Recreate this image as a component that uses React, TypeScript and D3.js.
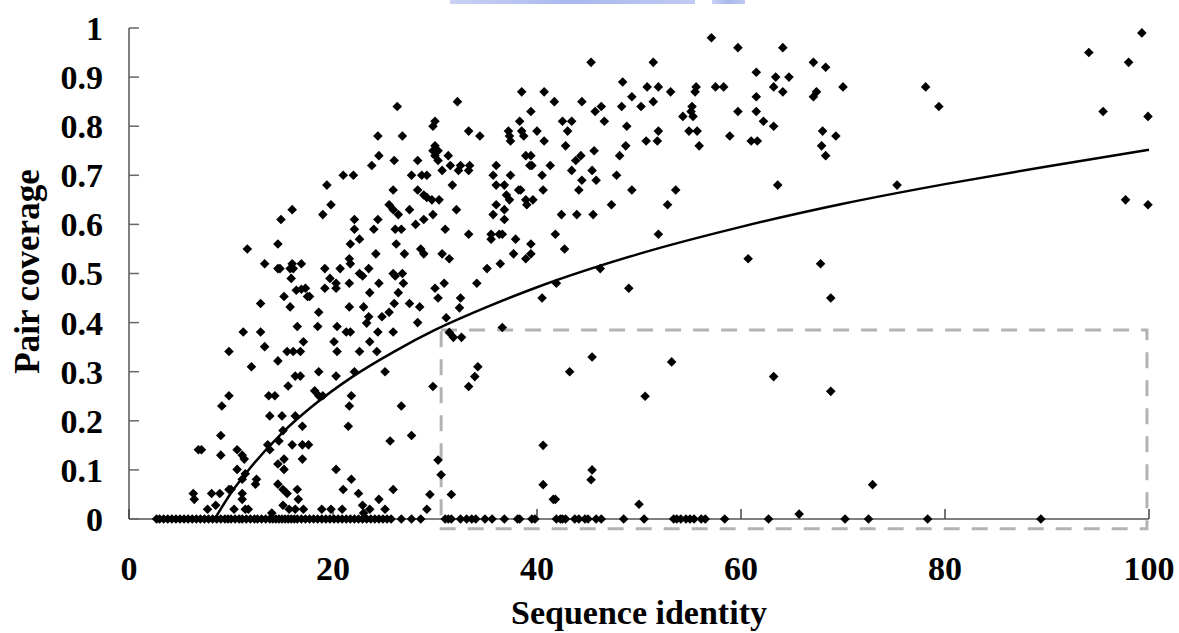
import React from 'react';
import * as d3 from 'd3';

// ---------- data ----------
const xTickValues = [0, 20, 40, 60, 80, 100];
const xTickLabels = ['0', '20', '40', '60', '80', '100'];
const yTickValues = [0, 0.1, 0.2, 0.3, 0.4, 0.5, 0.6, 0.7, 0.8, 0.9, 1];
const yTickLabels = ['0', '0.1', '0.2', '0.3', '0.4', '0.5', '0.6', '0.7', '0.8', '0.9', '1'];

const xTitle = 'Sequence identity';
const yTitle = 'Pair coverage';

// [sequence identity, pair coverage]
const pointsLeftHigh: [number, number][] = [
  [26.3, 0.84], [24.4, 0.78], [26.8, 0.78], [24.5, 0.74], [26.0, 0.73], [28.3, 0.73], [23.8, 0.72],
  [21.0, 0.70], [22.0, 0.70], [27.7, 0.70], [28.7, 0.70], [29.2, 0.70], [19.4, 0.68], [25.9, 0.67],
  [28.3, 0.67], [28.9, 0.66], [29.2, 0.655], [16.0, 0.63], [19.8, 0.64], [19.0, 0.62], [25.5, 0.64],
  [25.9, 0.63], [26.4, 0.62], [27.5, 0.63], [14.9, 0.61], [22.1, 0.61], [24.4, 0.61], [28.9, 0.61],
  [28.1, 0.60], [22.1, 0.59], [24.0, 0.59], [26.1, 0.59], [26.7, 0.59], [14.6, 0.56], [21.7, 0.56],
  [22.6, 0.57], [26.2, 0.56], [11.6, 0.55], [24.2, 0.54], [27.0, 0.54], [28.6, 0.55], [28.9, 0.54],
  [13.3, 0.52], [14.6, 0.51], [14.8, 0.51], [16.0, 0.52], [16.1, 0.51], [16.9, 0.52], [15.8, 0.51],
  [19.2, 0.51], [20.7, 0.51], [21.6, 0.53], [21.7, 0.52], [23.5, 0.51], [22.6, 0.50], [22.9, 0.495],
  [25.9, 0.50], [26.1, 0.495], [26.8, 0.50], [15.9, 0.49], [19.7, 0.49],
];

const pointsLeftLow: [number, number][] = [
  [20.3, 0.48], [21.6, 0.48], [24.5, 0.48], [26.9, 0.48], [16.4, 0.466], [16.9, 0.468], [17.3, 0.47],
  [17.5, 0.453], [17.7, 0.453], [19.2, 0.47], [20.3, 0.47], [23.6, 0.461], [26.4, 0.461], [15.2, 0.453],
  [15.8, 0.432], [12.9, 0.439], [18.6, 0.421], [21.6, 0.432], [23.0, 0.432], [27.5, 0.439], [28.5, 0.432],
  [26.0, 0.439], [23.5, 0.412], [24.8, 0.412], [25.5, 0.421], [23.3, 0.399], [28.3, 0.40], [16.5, 0.392],
  [18.5, 0.392], [20.4, 0.392], [21.3, 0.381], [21.7, 0.381], [24.4, 0.381], [25.9, 0.381], [11.2, 0.381],
  [12.9, 0.381], [13.3, 0.351], [17.1, 0.361], [20.1, 0.361], [23.6, 0.361], [9.8, 0.341], [15.5, 0.341],
  [16.1, 0.341], [16.8, 0.341], [20.4, 0.341], [22.6, 0.341], [24.3, 0.341], [14.6, 0.322], [12.0, 0.31],
  [18.6, 0.30], [20.3, 0.291], [22.1, 0.30], [25.1, 0.30], [16.3, 0.291], [16.8, 0.291], [15.6, 0.271],
  [18.2, 0.261], [18.6, 0.251], [19.0, 0.251], [13.7, 0.251], [14.3, 0.251], [9.8, 0.251], [9.1, 0.23],
  [21.8, 0.251], [21.6, 0.23], [26.7, 0.23], [13.8, 0.21], [15.0, 0.21], [16.3, 0.21], [17.0, 0.189],
  [15.1, 0.18], [21.5, 0.189], [9.0, 0.17], [14.7, 0.159], [16.0, 0.151], [17.0, 0.151], [17.6, 0.151],
  [25.6, 0.159], [27.7, 0.17], [6.8, 0.141], [7.1, 0.141], [10.6, 0.141], [11.1, 0.13], [11.3, 0.122],
  [9.0, 0.13], [13.8, 0.141], [13.6, 0.151], [15.2, 0.122], [14.6, 0.112], [15.2, 0.101], [17.0, 0.122],
  [10.6, 0.101], [11.4, 0.092], [11.1, 0.081], [12.5, 0.081], [12.4, 0.071], [20.3, 0.101], [14.6, 0.071],
  [15.1, 0.06], [15.5, 0.052], [16.5, 0.06], [16.6, 0.04], [21.8, 0.081], [21.0, 0.06], [22.5, 0.052],
  [25.9, 0.06], [6.3, 0.052], [6.4, 0.04], [8.1, 0.052], [8.9, 0.052], [9.8, 0.06], [10.0, 0.06],
  [11.1, 0.052], [11.1, 0.04], [8.5, 0.028], [7.7, 0.02], [10.3, 0.02], [11.4, 0.02], [11.7, 0.02],
  [15.1, 0.028], [15.7, 0.02], [16.3, 0.02], [17.1, 0.02], [18.9, 0.02], [19.8, 0.02], [20.9, 0.02],
  [22.9, 0.028], [23.6, 0.02], [24.5, 0.04], [25.1, 0.02], [14.0, 0.012], [23.0, 0.012],
];

const pointsMid: [number, number][] = [
  [45.3, 0.93], [51.4, 0.93], [48.4, 0.89], [50.8, 0.88], [51.9, 0.88], [53.1, 0.87], [55.6, 0.88],
  [55.5, 0.87], [57.5, 0.88], [38.5, 0.87], [40.7, 0.87], [32.2, 0.85], [41.7, 0.85], [44.4, 0.85],
  [46.3, 0.84], [48.3, 0.84], [49.3, 0.86], [50.2, 0.84], [51.4, 0.85], [45.7, 0.83], [39.4, 0.83],
  [55.2, 0.84], [55.1, 0.83], [54.3, 0.82], [55.3, 0.82], [54.9, 0.79], [55.7, 0.79], [55.9, 0.76],
  [30.0, 0.81], [29.8, 0.80], [33.3, 0.79], [34.4, 0.78], [37.2, 0.79], [37.3, 0.78], [37.4, 0.77],
  [38.3, 0.81], [38.5, 0.79], [38.7, 0.78], [40.0, 0.79], [40.7, 0.77], [42.5, 0.81], [43.4, 0.81],
  [43.0, 0.79], [42.8, 0.76], [46.6, 0.81], [48.8, 0.80], [48.7, 0.76], [50.7, 0.77], [51.8, 0.77],
  [51.9, 0.79], [45.6, 0.75], [48.1, 0.74], [44.3, 0.74], [43.8, 0.73], [30.0, 0.76], [29.8, 0.75],
  [30.3, 0.75], [30.0, 0.74], [30.3, 0.73], [31.3, 0.74], [31.5, 0.72], [32.5, 0.72], [32.3, 0.71],
  [33.4, 0.72], [33.3, 0.71], [30.7, 0.71], [36.0, 0.72], [35.7, 0.70], [37.4, 0.70], [39.3, 0.72],
  [39.5, 0.72], [38.9, 0.74], [39.4, 0.74], [41.3, 0.72], [40.5, 0.70], [43.4, 0.71], [44.4, 0.69],
  [45.4, 0.71], [45.8, 0.69], [47.8, 0.70], [31.7, 0.68], [36.0, 0.68], [36.8, 0.68], [38.2, 0.67],
  [38.4, 0.67], [40.6, 0.67], [44.1, 0.67], [49.3, 0.67], [53.6, 0.67], [29.7, 0.65], [30.4, 0.65],
  [37.0, 0.66], [37.3, 0.65], [38.9, 0.65], [39.6, 0.65], [39.0, 0.64], [36.0, 0.64], [36.8, 0.63],
  [32.1, 0.63], [29.8, 0.62], [35.7, 0.62], [36.8, 0.61], [42.4, 0.62], [43.9, 0.62], [45.5, 0.62],
  [47.3, 0.64], [52.8, 0.64], [31.0, 0.59], [33.3, 0.58], [35.5, 0.58], [36.3, 0.58], [36.6, 0.58],
  [35.5, 0.57], [37.9, 0.57], [41.8, 0.58], [39.4, 0.56], [51.9, 0.58], [30.7, 0.54], [31.4, 0.53],
  [37.7, 0.54], [38.9, 0.53], [39.4, 0.54], [42.7, 0.55], [36.4, 0.52], [35.1, 0.51], [46.2, 0.51],
  [30.0, 0.47], [30.3, 0.45], [30.9, 0.48], [32.5, 0.45], [32.4, 0.43], [34.1, 0.48], [31.1, 0.41],
  [40.5, 0.45], [41.9, 0.48], [49.0, 0.47], [36.6, 0.39], [31.4, 0.38], [31.8, 0.37], [32.6, 0.37],
  [45.4, 0.33], [53.2, 0.32], [43.2, 0.30], [34.2, 0.31], [33.9, 0.29], [33.3, 0.27], [29.8, 0.27],
  [50.6, 0.25], [40.6, 0.15], [30.3, 0.12], [30.6, 0.09], [45.4, 0.10], [45.3, 0.08], [40.6, 0.07],
  [29.5, 0.05], [31.6, 0.05], [41.6, 0.04], [41.8, 0.04], [50.0, 0.03], [29.2, 0.02],
];

const pointsRight: [number, number][] = [
  [57.1, 0.98], [59.7, 0.96], [64.1, 0.96], [61.5, 0.91], [67.1, 0.93], [68.3, 0.92], [63.4, 0.90],
  [64.7, 0.90], [58.3, 0.88], [63.2, 0.88], [64.1, 0.87], [67.1, 0.86], [67.4, 0.87], [70.0, 0.88],
  [61.5, 0.86], [59.7, 0.83], [61.5, 0.83], [62.2, 0.81], [63.2, 0.80], [58.9, 0.78], [61.0, 0.77],
  [61.6, 0.77], [68.0, 0.79], [69.3, 0.78], [67.9, 0.76], [68.3, 0.74], [63.6, 0.68], [75.3, 0.68],
  [78.1, 0.88], [79.4, 0.84], [94.1, 0.95], [99.3, 0.99], [98.0, 0.93], [95.5, 0.83], [99.9, 0.82],
  [97.7, 0.65], [99.9, 0.64], [60.7, 0.53], [67.8, 0.52], [68.8, 0.45], [63.2, 0.29], [68.8, 0.26],
  [72.9, 0.07], [65.7, 0.01],
];

// identities of pairs with zero coverage
const zeroCoverageIdentity: number[] = [
  2.7, 3.0, 3.4, 3.8, 4.2, 4.6, 5.0, 5.4, 5.8, 6.2, 6.6, 7.0, 7.4, 7.8, 8.2, 8.6, 9.0, 9.4, 9.7, 10.0,
  10.4, 10.8, 11.1, 11.5, 11.9, 12.3, 12.6, 13.0, 13.4, 13.8, 14.1, 14.4, 14.7, 15.0, 15.3, 15.6, 15.9,
  16.2, 16.5, 16.9, 17.3, 17.7, 18.1, 18.5, 18.9, 19.3, 19.7, 20.1, 20.5, 20.9, 21.3, 21.7, 22.1, 22.5,
  22.9, 23.3, 23.7, 24.1, 24.5, 24.9, 25.3, 25.7, 26.7, 27.7, 28.6, 31.0, 31.3, 31.6, 32.5, 33.1, 33.6,
  34.0, 34.9, 35.6, 36.8, 38.1, 38.3, 39.5, 39.8, 41.9, 42.3, 42.5, 42.8, 43.7, 44.1, 44.7, 45.0, 45.8,
  46.3, 48.5, 50.5, 53.4, 53.7, 54.1, 54.6, 55.0, 55.4, 56.1, 56.5, 58.4, 62.7, 70.2, 72.5, 78.3, 89.4,
];

// logarithmic trend line
const trendIdentity = [8.4, 10, 12, 15, 18, 22, 26, 30, 35, 40, 50, 60, 70, 80, 90, 100];
const trendCoverage = [0, 0.053, 0.107, 0.175, 0.23, 0.291, 0.341, 0.385, 0.431, 0.472, 0.54, 0.595, 0.642, 0.682, 0.718, 0.752];

// highlighted region (data units)
const regionIdentity = [30.6, 99.8];
const regionCoverage = [-0.02, 0.385];

const FONT = '"Liberation Serif", "Times New Roman", serif';

export default function App() {
  const W = 1179;
  const H = 633;
  const x = d3.scaleLinear().domain([0, 100]).range([129, 1149]);
  const y = d3.scaleLinear().domain([0, 1]).range([519, 28]);

  const diamond = d3.symbol().type(d3.symbolSquare).size(46)() as string;

  const allPoints: [number, number][] = [
    ...pointsLeftHigh,
    ...pointsLeftLow,
    ...pointsMid,
    ...pointsRight,
    ...zeroCoverageIdentity.map((v) => [v, 0] as [number, number]),
  ];

  const trend = d3
    .line<number>()
    .x((_, i) => x(trendIdentity[i]))
    .y((d) => y(d))
    .curve(d3.curveMonotoneX)(trendCoverage) as string;

  const rx0 = x(regionIdentity[0]);
  const rx1 = x(regionIdentity[1]);
  const ry0 = y(regionCoverage[1]);
  const ry1 = y(regionCoverage[0]);

  return (
    <svg
      width={W}
      height={H}
      viewBox={`0 0 ${W} ${H}`}
      style={{ position: 'absolute', left: 0, top: 0, background: '#fff' }}
    >
      <defs>
        <linearGradient id="band" x1="0" x2="1" y1="0" y2="0">
          <stop offset="0" stopColor="#c9d2f3" />
          <stop offset="0.5" stopColor="#a9b7ee" />
          <stop offset="1" stopColor="#c0cbf2" />
        </linearGradient>
      </defs>
      <rect x={0} y={0} width={W} height={H} fill="#fff" />
      {/* clipped banner remnant at top */}
      <rect x={450} y={0} width={245} height={4} fill="url(#band)" />
      <rect x={712} y={0} width={33} height={4} fill="url(#band)" />

      {/* highlighted region */}
      <rect
        x={rx0}
        y={ry0}
        width={rx1 - rx0}
        height={ry1 - ry0}
        fill="none"
        stroke="#b3b3b3"
        strokeWidth={3}
        strokeDasharray="16 12"
      />

      {/* axes */}
      <line x1={x(0)} x2={x(0)} y1={y(1)} y2={y(0)} stroke="#7f7f7f" strokeWidth={2} />
      <line x1={x(0)} x2={x(100)} y1={y(0)} y2={y(0)} stroke="#7f7f7f" strokeWidth={2} />
      {yTickValues.map((v) => (
        <line key={'yt' + v} x1={x(0)} x2={x(0) + 10} y1={y(v)} y2={y(v)} stroke="#666" strokeWidth={1.5} />
      ))}
      {xTickValues.map((v) => (
        <line key={'xt' + v} x1={x(v)} x2={x(v)} y1={y(0)} y2={y(0) - 10} stroke="#444" strokeWidth={1.5} />
      ))}

      {/* points */}
      <g fill="#000">
        {allPoints.map((p, i) => (
          <path key={i} d={diamond} transform={`translate(${x(p[0])},${y(p[1])}) rotate(45)`} />
        ))}
      </g>

      {/* trend line */}
      <path d={trend} fill="none" stroke="#000" strokeWidth={2.5} />

      {/* tick labels */}
      <g fontFamily={FONT} fontWeight="bold" fontSize={34} fill="#000">
        {yTickValues.map((v, i) => (
          <text key={'yl' + v} x={103} y={y(v)} dy="0.35em" textAnchor="end">
            {yTickLabels[i]}
          </text>
        ))}
        {xTickValues.map((v, i) => (
          <text key={'xl' + v} x={x(v)} y={580} textAnchor="middle">
            {xTickLabels[i]}
          </text>
        ))}
      </g>

      {/* axis titles */}
      <text
        x={x(50)}
        y={624}
        textAnchor="middle"
        fontFamily={FONT}
        fontWeight="bold"
        fontSize={34}
      >
        {xTitle}
      </text>
      <text
        transform={`translate(39, ${y(0.5) - 2}) rotate(-90)`}
        textAnchor="middle"
        fontFamily={FONT}
        fontWeight="bold"
        fontSize={35}
      >
        {yTitle}
      </text>
    </svg>
  );
}
